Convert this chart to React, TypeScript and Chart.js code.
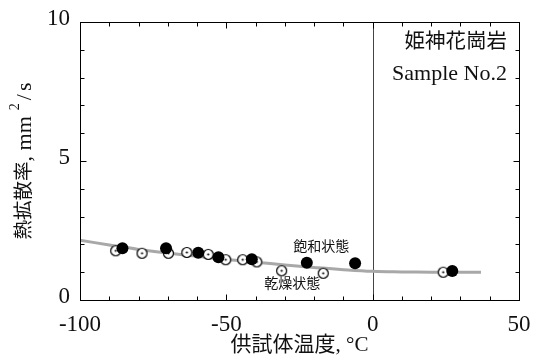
import React, { useEffect, useRef } from 'react';
import { Chart, registerables } from 'chart.js';

Chart.register(...registerables);

// ---- data ----
const xMajorTicks = [-100, -50, 0, 50];
const yMajorTicks = [0, 5, 10];

const saturatedX = [-85.5, -70.6, -59.6, -52.7, -41.3, -22.5, -6.0, 27.2];
const saturatedY = [1.86, 1.86, 1.7, 1.54, 1.47, 1.34, 1.32, 1.04];

const dryX = [-87.8, -78.8, -69.8, -63.5, -56.2, -50.2, -44.4, -39.6, -31.1, -16.9, 24.1];
const dryY = [1.77, 1.68, 1.68, 1.71, 1.64, 1.45, 1.45, 1.37, 1.05, 0.96, 1.0];

const curveX = [-100, -90, -80, -70, -60, -50, -40, -30, -20, -10, 0, 10, 20, 30, 37];
const curveY = [2.15, 1.98, 1.82, 1.69, 1.57, 1.46, 1.36, 1.26, 1.17, 1.09, 1.03, 1.01, 1.0, 1.0, 1.0];

const xTitle = '供試体温度, °C';
const yTitleCjk = '熱拡散率';
const yTitleUnit = ', mm';
const yTitleSup = '2';
const yTitleSlash = '/';
const yTitleTail = 's';
const rockName = '姫神花崗岩';
const sampleName = 'Sample No.2';
const satLabel = '飽和状態';
const dryLabel = '乾燥状態';

const SERIF = "'Liberation Serif', 'Noto Sans CJK JP', serif";

function makeOpenPoint(): HTMLCanvasElement {
  const c = document.createElement('canvas');
  c.width = 13;
  c.height = 13;
  const g = c.getContext('2d')!;
  g.beginPath();
  g.arc(6.5, 6.5, 5, 0, Math.PI * 2);
  g.fillStyle = '#fff';
  g.fill();
  g.lineWidth = 1.2;
  g.strokeStyle = '#000';
  g.stroke();
  g.beginPath();
  g.arc(6.5, 6.5, 1.1, 0, Math.PI * 2);
  g.fillStyle = '#000';
  g.fill();
  return c;
}

const framePlugin = {
  id: 'framePlugin',
  beforeDatasetsDraw(chart: any) {
    const { ctx, chartArea: a, scales } = chart;
    const x0 = scales.x.getPixelForValue(0);
    ctx.save();
    ctx.strokeStyle = '#444';
    ctx.lineWidth = 1;
    ctx.beginPath();
    ctx.moveTo(Math.round(x0) + 0.5, a.top);
    ctx.lineTo(Math.round(x0) + 0.5, a.bottom);
    ctx.stroke();
    ctx.restore();
  },
  afterDraw(chart: any) {
    const { ctx, chartArea: a, scales } = chart;
    const xs = scales.x;
    const ys = scales.y;
    ctx.save();
    ctx.strokeStyle = '#000';
    ctx.lineWidth = 1;
    const L = Math.round(a.left) + 0.5;
    const R = Math.round(a.right) + 0.5;
    const T = Math.round(a.top) + 0.5;
    const B = Math.round(a.bottom) + 0.5;
    ctx.strokeRect(L, T, R - L, B - T);
    ctx.beginPath();
    for (let v = -100; v <= 50; v += 10) {
      const px = Math.round(xs.getPixelForValue(v)) + 0.5;
      const len = xMajorTicks.includes(v) ? 6 : 4;
      ctx.moveTo(px, B);
      ctx.lineTo(px, B - len);
      ctx.moveTo(px, T);
      ctx.lineTo(px, T + len);
    }
    for (let v = 0; v <= 10; v += 1) {
      const py = Math.round(ys.getPixelForValue(v)) + 0.5;
      const len = yMajorTicks.includes(v) ? 6 : 4;
      ctx.moveTo(L, py);
      ctx.lineTo(L + len, py);
      ctx.moveTo(R, py);
      ctx.lineTo(R - len, py);
    }
    ctx.stroke();

    ctx.fillStyle = '#111';
    ctx.textBaseline = 'middle';

    // tick labels
    ctx.font = `23px ${SERIF}`;
    ctx.textAlign = 'center';
    for (const v of xMajorTicks) {
      ctx.fillText(String(v), xs.getPixelForValue(v), 325);
    }
    ctx.textAlign = 'right';
    for (const v of yMajorTicks) {
      ctx.fillText(String(v), a.left - 10, ys.getPixelForValue(v) - 3);
    }

    // x axis title
    ctx.textAlign = 'center';
    ctx.font = `21px ${SERIF}`;
    ctx.fillText(xTitle, (a.left + a.right) / 2, 345);

    // y axis title, built from pieces
    ctx.save();
    ctx.translate(25, (a.top + a.bottom) / 2);
    ctx.rotate(-Math.PI / 2);
    ctx.textAlign = 'left';
    const pieces: [string, string, number, number][] = [
      [yTitleCjk, `19.5px ${SERIF}`, 0, 0],
      [yTitleUnit, `22px ${SERIF}`, 0, 6],
      [yTitleSup, `14px ${SERIF}`, -10, 3],
      [yTitleSlash, `22px ${SERIF}`, 0, 3],
      [yTitleTail, `22px ${SERIF}`, 0, 0],
    ];
    let total = 0;
    const widths: number[] = [];
    pieces.forEach(([t, f, , gap]) => {
      ctx.font = f;
      const w = ctx.measureText(t).width;
      widths.push(w);
      total += w + gap;
    });
    let cx = -total / 2;
    pieces.forEach(([t, f, dy, gap], i) => {
      ctx.font = f;
      ctx.fillText(t, cx, dy);
      cx += widths[i] + gap;
    });
    ctx.restore();

    // annotations
    ctx.textAlign = 'right';
    ctx.font = `20.5px ${SERIF}`;
    ctx.fillText(rockName, 507, 43);
    ctx.font = `22px ${SERIF}`;
    ctx.fillText(sampleName, 507, 74);

    ctx.textAlign = 'center';
    ctx.font = `14px ${SERIF}`;
    ctx.fillText(satLabel, xs.getPixelForValue(-17.6), ys.getPixelForValue(1.9));
    ctx.fillText(dryLabel, xs.getPixelForValue(-27.5), ys.getPixelForValue(0.55));
    ctx.restore();
  },
};

export default function App() {
  const ref = useRef<HTMLCanvasElement>(null);
  useEffect(() => {
    if (!ref.current) return;
    const openPt = makeOpenPoint();
    const chart = new Chart(ref.current, {
      type: 'scatter',
      data: {
        datasets: [
          {
            label: 'curve',
            data: curveX.map((x, i) => ({ x, y: curveY[i] })),
            showLine: true,
            tension: 0.4,
            borderColor: '#a8a8a8',
            borderWidth: 3,
            pointRadius: 0,
            order: 3,
          },
          {
            label: dryLabel,
            data: dryX.map((x, i) => ({ x, y: dryY[i] })),
            pointStyle: openPt as any,
            pointRadius: 6,
            order: 2,
          },
          {
            label: satLabel,
            data: saturatedX.map((x, i) => ({ x, y: saturatedY[i] })),
            pointStyle: 'circle',
            pointRadius: 6,
            backgroundColor: '#000',
            borderColor: '#000',
            borderWidth: 0,
            order: 1,
          },
        ],
      },
      options: {
        responsive: false,
        animation: false,
        layout: { padding: { left: 0, right: 18, top: 22, bottom: 0 } },
        plugins: { legend: { display: false }, tooltip: { enabled: false } },
        scales: {
          x: {
            type: 'linear',
            min: -100,
            max: 50,
            afterFit: (s: any) => {
              s.height = 58;
            },
            grid: { display: false, drawTicks: false },
            border: { display: false },
            ticks: { display: false },
          },
          y: {
            type: 'linear',
            min: 0,
            max: 10,
            afterFit: (s: any) => {
              s.width = 80;
            },
            grid: { display: false, drawTicks: false },
            border: { display: false },
            ticks: { display: false },
          },
        },
      },
      plugins: [framePlugin],
    });
    return () => chart.destroy();
  }, []);
  return (
    <div style={{ position: 'absolute', left: 0, top: 0, width: 537, height: 358, background: '#fff' }}>
      <canvas ref={ref} width={537} height={358} />
    </div>
  );
}
